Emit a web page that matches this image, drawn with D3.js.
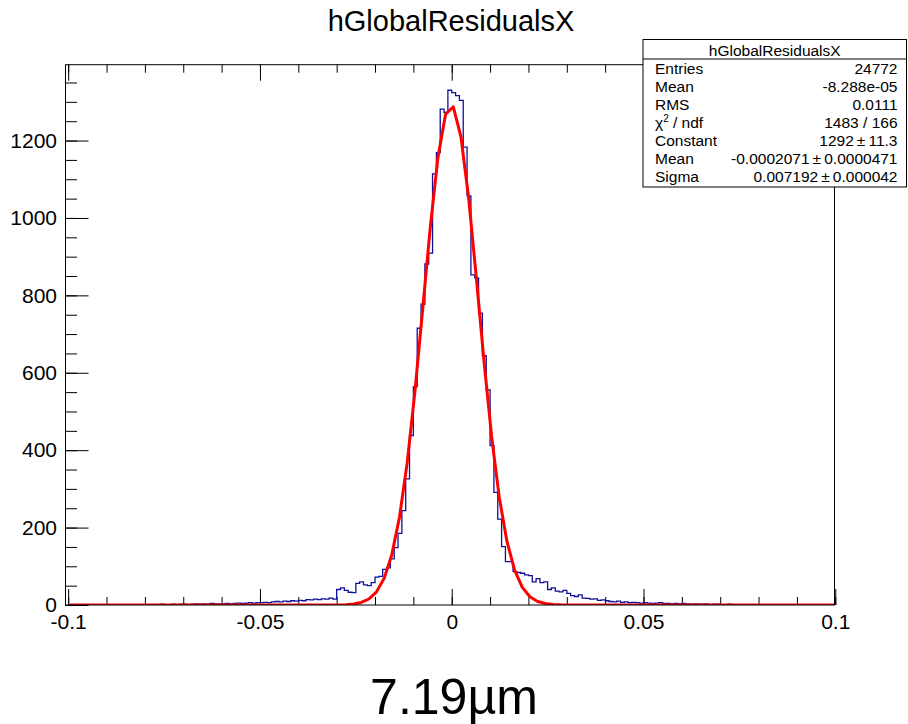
<!DOCTYPE html>
<html>
<head>
<meta charset="utf-8">
<script src="https://cdn.jsdelivr.net/npm/d3@7"></script>
<style>
  body { margin: 0; background: #fff; }
  text { font-family: "Liberation Sans", Arial, Helvetica, sans-serif; }
</style>
</head>
<body>
<div id="graph"></div>
<script>
// histogram: 200 bins of 0.001 from -0.1
const binLow = -0.1;
const binWidth = 0.001;
const counts = [
  0,0,1,0,0,1,0,0,0,1,
  0,1,0,0,1,0,1,0,1,1,
  1,0,1,1,2,1,1,2,1,2,
  2,1,2,3,2,3,2,4,3,3,
  3,4,3,4,5,4,5,6,5,6,
  6,7,6,8,9,8,10,9,11,10,
  12,11,14,13,15,14,16,15,18,15,
  40,44,38,33,32,56,60,52,50,58,
  72,74,92,96,119,148,185,244,326,438,
  564,715,777,881,909,1114,1169,1281,1273,1330,
  1324,1316,1304,1183,1057,853,845,754,644,556,
  412,291,222,151,112,112,86,84,82,78,
  76,60,68,58,60,40,44,36,34,38,
  30,24,22,26,18,17,15,16,12,13,
  11,9,8,10,7,8,6,7,6,5,
  6,5,4,5,6,4,4,3,4,3,
  4,3,2,3,2,2,3,1,2,2,
  1,1,2,1,1,0,1,1,0,1,
  0,0,1,0,0,1,0,0,0,1,
  0,0,0,0,1,0,0,0,0,0
];

// gaussian fit curve, sampled every 0.002 from -0.0996
const fitStart = -0.0996;
const fitStep = 0.002;
const fitY = [
  0,0,0,0,0,0,0,0,0,0,
  0,0,0,0,0,0,0,0,0,0,
  0,0,0,0,0,0,0,0,0,0,
  0,0,0,0,0,0.3,0.9,2.5,6.5,15.5,
  34.1,69.4,130.7,228.2,368.5,550.6,761.6,975.3,1155.9,1268.0,
  1287.4,1209.8,1052.3,847.2,631.4,435.5,278.0,164.3,89.9,45.5,
  21.3,9.2,3.7,1.4,0.5,0.15,0,0,0,0,
  0,0,0,0,0,0,0,0,0,0,
  0,0,0,0,0,0,0,0,0,0,
  0,0,0,0,0,0,0,0,0,0,
  0
];

const xMajor = [-0.1, -0.05, 0, 0.05, 0.1];
const xMinor = d3.range(-10, 11).map(i => i / 100);
const yMajor = [0, 200, 400, 600, 800, 1000, 1200];
const yMinor = d3.range(0, 1400, 50);
const xLabels = ["-0.1", "-0.05", "0", "0.05", "0.1"];

const title = "hGlobalResidualsX";
const statsRows = [
  ["Entries", "24772"],
  ["Mean", "-8.288e-05"],
  ["RMS", "0.0111"],
  ["chi2", "1483 / 166"],
  ["Constant", "1292\u2009\u00b1\u200911.3"],
  ["Mean", "-0.0002071\u2009\u00b1\u20090.0000471"],
  ["Sigma", "0.007192\u2009\u00b1\u20090.000042"]
];
const bottomText = "7.19\u00b5m";

const W = 908, H = 724;
const frame = { left: 65.5, right: 834.5, top: 64.7, bottom: 605 };

const svg = d3.select('#graph').append('svg')
    .attr('width', W)
    .attr('height', H)
    .style('display', 'block');

svg.append('rect').attr('width', W).attr('height', H).attr('fill', '#fff');

const x = d3.scaleLinear()
    .domain([-0.1007, 0.0998])
    .range([frame.left, frame.right]);

const y = d3.scaleLinear()
    .domain([0, 1396])
    .range([frame.bottom, frame.top]);

svg.append('defs').append('clipPath')
    .attr('id', 'clip')
  .append('rect')
    .attr('x', frame.left)
    .attr('y', frame.top)
    .attr('width', frame.right - frame.left)
    .attr('height', frame.bottom - frame.top);

// axes
function styleAxis(g) {
  g.select('.domain').remove();
  g.selectAll('.tick line').attr('stroke', '#000').attr('stroke-width', 1);
  g.selectAll('.tick text').attr('fill', '#000').attr('font-size', 21);
}

svg.append('g')
    .attr('transform', `translate(0,${frame.bottom})`)
    .call(d3.axisBottom(x).tickValues(xMinor).tickSize(-8).tickFormat(''))
    .call(styleAxis);

svg.append('g')
    .attr('transform', `translate(0,${frame.bottom})`)
    .call(d3.axisBottom(x).tickValues(xMajor).tickSize(-16).tickPadding(9)
      .tickFormat((d, i) => xLabels[i]))
    .call(styleAxis);

svg.append('g')
    .attr('transform', `translate(0,${frame.top})`)
    .call(d3.axisTop(x).tickValues(xMinor).tickSize(-8).tickFormat(''))
    .call(styleAxis);

svg.append('g')
    .attr('transform', `translate(0,${frame.top})`)
    .call(d3.axisTop(x).tickValues(xMajor).tickSize(-16).tickFormat(''))
    .call(styleAxis);

svg.append('g')
    .attr('transform', `translate(${frame.left},0)`)
    .call(d3.axisLeft(y).tickValues(yMinor).tickSize(-11.5).tickFormat(''))
    .call(styleAxis);

svg.append('g')
    .attr('transform', `translate(${frame.left},0)`)
    .call(d3.axisLeft(y).tickValues(yMajor).tickSize(-23).tickPadding(8.5).tickFormat(d3.format('d')))
    .call(styleAxis);

// histogram outline
const steps = counts.map((c, i) => [binLow + i * binWidth, c]);
steps.push([binLow + counts.length * binWidth, counts[counts.length - 1]]);

const stepLine = d3.line()
    .x(d => x(d[0]))
    .y(d => y(d[1]))
    .curve(d3.curveStepAfter);

const marks = svg.append('g').attr('clip-path', 'url(#clip)');

marks.append('path')
    .attr('d', stepLine(steps))
    .attr('fill', 'none')
    .attr('stroke', '#10109a')
    .attr('stroke-width', 1.3);

const fitLine = d3.line()
    .x((d, i) => x(fitStart + i * fitStep))
    .y(d => y(d));

marks.append('path')
    .attr('d', fitLine(fitY))
    .attr('fill', 'none')
    .attr('stroke', '#ff0000')
    .attr('stroke-width', 3)
    .attr('stroke-linejoin', 'round');

// frame
svg.append('rect')
    .attr('x', frame.left)
    .attr('y', frame.top)
    .attr('width', frame.right - frame.left)
    .attr('height', frame.bottom - frame.top)
    .attr('fill', 'none')
    .attr('stroke', '#000')
    .attr('stroke-width', 1);

// title
svg.append('text')
    .attr('x', 451)
    .attr('y', 31)
    .attr('text-anchor', 'middle')
    .attr('font-size', 29)
    .text(title);

// stats box
const box = { x: 643, y: 39.5, w: 263.5, h: 147.5 };
svg.append('rect')
    .attr('x', box.x).attr('y', box.y)
    .attr('width', box.w).attr('height', box.h)
    .attr('fill', '#fff')
    .attr('stroke', '#000')
    .attr('stroke-width', 1);

svg.append('line')
    .attr('x1', box.x).attr('x2', box.x + box.w)
    .attr('y1', 59).attr('y2', 59)
    .attr('stroke', '#000');

svg.append('text')
    .attr('x', box.x + box.w / 2)
    .attr('y', 55.5)
    .attr('text-anchor', 'middle')
    .attr('font-size', 15.5)
    .text(title);

statsRows.forEach((r, i) => {
  const by = 73.5 + i * 18.03;
  const t = svg.append('text')
      .attr('x', 655)
      .attr('y', by)
      .attr('font-size', 15.5);
  if (r[0] === 'chi2') {
    t.append('tspan').text('\u03c7');
    t.append('tspan').attr('dy', -6).attr('font-size', 10).text('2');
    t.append('tspan').attr('dy', 6).text(' / ndf');
  } else {
    t.text(r[0]);
  }
  svg.append('text')
      .attr('x', 897.5)
      .attr('y', by)
      .attr('text-anchor', 'end')
      .attr('font-size', 15.5)
      .text(r[1]);
});

// bottom label
svg.append('text')
    .attr('x', 454)
    .attr('y', 714)
    .attr('text-anchor', 'middle')
    .attr('font-size', 50)
    .text(bottomText);
</script>
</body>
</html>
